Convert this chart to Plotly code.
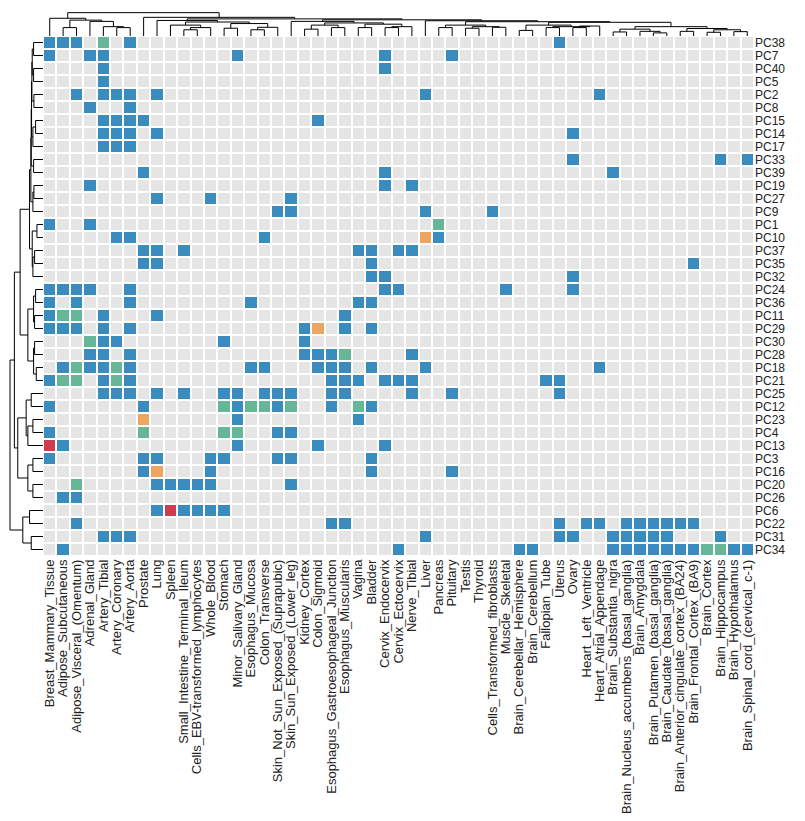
import plotly.graph_objects as go

tissues = [
    "Breast_Mammary_Tissue", "Adipose_Subcutaneous", "Adipose_Visceral_(Omentum)",
    "Adrenal_Gland", "Artery_Tibial", "Artery_Coronary", "Artery_Aorta", "Prostate",
    "Lung", "Spleen", "Small_Intestine_Terminal_Ileum", "Cells_EBV-transformed_lymphocytes",
    "Whole_Blood", "Stomach", "Minor_Salivary_Gland", "Esophagus_Mucosa", "Colon_Transverse",
    "Skin_Not_Sun_Exposed_(Suprapubic)", "Skin_Sun_Exposed_(Lower_leg)", "Kidney_Cortex",
    "Colon_Sigmoid", "Esophagus_Gastroesophageal_Junction", "Esophagus_Muscularis", "Vagina",
    "Bladder", "Cervix_Endocervix", "Cervix_Ectocervix", "Nerve_Tibial", "Liver", "Pancreas",
    "Pituitary", "Testis", "Thyroid", "Cells_Transformed_fibroblasts", "Muscle_Skeletal",
    "Brain_Cerebellar_Hemisphere", "Brain_Cerebellum", "Fallopian_Tube", "Uterus", "Ovary",
    "Heart_Left_Ventricle", "Heart_Atrial_Appendage", "Brain_Substantia_nigra",
    "Brain_Nucleus_accumbens_(basal_ganglia)", "Brain_Amygdala",
    "Brain_Putamen_(basal_ganglia)", "Brain_Caudate_(basal_ganglia)",
    "Brain_Anterior_cingulate_cortex_(BA24)", "Brain_Frontal_Cortex_(BA9)", "Brain_Cortex",
    "Brain_Hippocampus", "Brain_Hypothalamus", "Brain_Spinal_cord_(cervical_c-1)",
]

pcs = ["PC38", "PC7", "PC40", "PC5", "PC2", "PC8", "PC15", "PC14", "PC17", "PC33",
       "PC39", "PC19", "PC27", "PC9", "PC1", "PC10", "PC37", "PC35", "PC32", "PC24",
       "PC36", "PC11", "PC29", "PC30", "PC28", "PC18", "PC21", "PC25", "PC12", "PC23",
       "PC4", "PC13", "PC3", "PC16", "PC20", "PC26", "PC6", "PC22", "PC31", "PC34"]

# 0 = none, 1 = blue, 2 = green, 3 = orange, 4 = red (blocks of 10 tissues)
cells = [
    "1110201000 0000000000 0000000000 0000000010 0000000000 000",  # PC38
    "1001100000 0000100000 0000010000 1000000000 0000000000 000",  # PC7
    "0000100000 0000000000 0000010000 0000000000 0000000000 000",  # PC40
    "0000100000 0000000000 0000000000 0000000000 0000000000 000",  # PC5
    "0010111010 0000000000 0000000010 0000000000 0100000000 000",  # PC2
    "0001001000 0000000000 0000000000 0000000000 0000000000 000",  # PC8
    "0000111100 0000000000 1000000000 0000000000 0000000000 000",  # PC15
    "0000111010 0000000000 0000000000 0000000001 0000000000 000",  # PC14
    "0000111000 0000000000 0000000000 0000000000 0000000000 000",  # PC17
    "0000000000 0000000000 0000000000 0000000001 0000000000 101",  # PC33
    "0000000100 0000000000 0000010000 0000000000 0010000000 000",  # PC39
    "0001000000 0000000000 0000010100 0000000000 0000000000 000",  # PC19
    "0000000010 0010000010 0000000000 0000000000 0000000000 000",  # PC27
    "0000000000 0000000110 0000000010 0001000000 0000000000 000",  # PC9
    "1001000000 0000000000 0000000002 0000000000 0000000000 000",  # PC1
    "0000011000 0000001000 0000000031 0000000000 0000000000 000",  # PC10
    "0000000110 1000000000 0001101100 0000000000 0000000000 000",  # PC37
    "0000000110 0000000000 0000100000 0000000000 0000000010 000",  # PC35
    "0000000000 0000000000 0000110000 0000000001 0000000000 000",  # PC32
    "1111001000 0000000000 0000011000 0000100001 0000000000 000",  # PC24
    "1010001000 0000010000 0001100000 0000000000 0000000000 000",  # PC36
    "1220100010 0000000000 0010000000 0000000000 0000000000 000",  # PC11
    "1110101000 0000000001 3010100000 0000000000 0000000000 000",  # PC29
    "0002110000 0001000001 0000000000 0000000000 0000000000 000",  # PC30
    "0001101000 0000000001 1120000100 0000000000 0000000000 000",  # PC28
    "0121121000 0000011000 1110100010 0000000000 0100000000 000",  # PC18
    "1220121000 0000000000 0111011100 0000000110 0000000000 000",  # PC21
    "0000111010 1001101110 0110000100 1000000010 0000000000 000",  # PC25
    "1000000100 0002122120 0102100000 0000000000 0000000000 000",  # PC12
    "0000000300 0000100000 0001000000 0000000000 0000000000 000",  # PC23
    "1000000200 0002200110 0000000000 0000000000 0000000000 000",  # PC4
    "4100000000 0000100000 1000010000 0000000000 0000000000 000",  # PC13
    "1000000110 0011000110 0000100000 0000000000 0000000000 000",  # PC3
    "0000000130 0010000000 0000100000 1000000000 0000000000 000",  # PC16
    "0020000011 1110000010 0000000000 0000000000 0000000000 000",  # PC20
    "0110000000 0000000000 0000000000 0000000000 0000000000 000",  # PC26
    "0000000014 1111000000 0000000000 0000000000 0000000000 000",  # PC6
    "0010000000 0000000000 0110000000 0000000010 1101111110 000",  # PC22
    "0000111000 0000000000 0000000010 0000000011 0011111000 100",  # PC31
    "0100000000 0000000000 0000001000 0000011000 0011111112 211",  # PC34
]


def N(h, a, b):
    return (h, a, b)


# column dendrogram (leaf = tissue index, merge heights)
col_tree = N(75,
    N(57, 0, N(51, N(27, 1, 2), N(47, 3, N(30, 4, N(27, 5, 6))))),
    N(60, 7, N(55,
        N(50, 8, N(45, N(35, 9, N(27, N(20, 10, 11), 12)),
                       N(40, N(25, 13, 14), N(28, N(20, 15, 16), 17)))),
        N(52,
          N(47, 18, N(42, N(35, N(22, 19, 20), N(27, 21, 22)),
                          N(38, N(27, 23, 24), N(30, N(27, 25, 26), 27)))),
          N(49, 28, N(46,
              N(35, N(27, 29, 30), N(30, N(25, 31, 32), N(28, 33, 34))),
              N(44, N(35, N(18, 35, 36), N(30, N(27, 37, 38), N(32, N(27, 39, 40), 41))),
                    N(30, N(22, N(13, 42, 43), N(15, 44, N(10, 45, 46))),
                          N(24, N(15, 47, 48), N(20, N(12, 49, 50), N(14, 51, 52)))))))))))

# row dendrogram (leaf = row index)
row_tree = N(98,
    N(85,
      N(68,
        N(40,
          N(36, N(35, N(34, N(33, N(32, N(28, 0, 1), N(28, 2, 3)), N(27, 4, 5)),
                          N(30, N(22, 6, 7), 8)), N(28, 9, 10)),
                N(30, N(27, 11, 12), 13)),
          N(32, N(18, 14, 15), N(30, N(25, 16, 17), 18))),
        N(45, N(28, N(22, 19, 20), N(25, 21, 22)), N(28, N(25, 23, 24), N(20, 25, 26)))),
      N(75,
        N(50, N(35, 27, 28), N(45, N(30, 29, 30), 31)),
        N(45, N(30, 32, 33), N(30, 34, 35)))),
    N(60, N(40, 36, 37), N(35, 38, 39)))


def dendro(node, segs):
    # returns (position, height); appends the bracket segments
    if not isinstance(node, tuple):
        return float(node), 0.0
    h, a, b = node
    pa, ha = dendro(a, segs)
    pb, hb = dendro(b, segs)
    segs.append([(pa, ha), (pa, h), (pb, h), (pb, hb)])
    return (pa + pb) / 2, h


z = [[int(ch) for ch in row.replace(" ", "")] for row in cells]

grey = "#E5E5E5"
blue = "#3A8BBE"
green = "#66B797"
orange = "#EDA65F"
red = "#CB3D4F"
cscale = [[0, grey], [0.125, grey], [0.125, blue], [0.375, blue], [0.375, green],
          [0.625, green], [0.625, orange], [0.875, orange], [0.875, red], [1, red]]

fig = go.Figure()
fig.add_trace(go.Heatmap(
    z=z, x=list(range(len(tissues))), y=list(range(len(pcs))),
    zmin=0, zmax=4, colorscale=cscale, showscale=False,
    xgap=2, ygap=2, hoverinfo="skip"))

top_segs = []
dendro(col_tree, top_segs)
tx, ty = [], []
for s in top_segs:
    for p, h in s:
        tx.append(p)
        ty.append(h)
    tx.append(None)
    ty.append(None)
fig.add_trace(go.Scatter(x=tx, y=ty, mode="lines", xaxis="x2", yaxis="y2",
                         line=dict(color="black", width=1), hoverinfo="skip"))

left_segs = []
dendro(row_tree, left_segs)
lx, ly = [], []
for s in left_segs:
    for p, h in s:
        lx.append(h)
        ly.append(p)
    lx.append(None)
    ly.append(None)
fig.add_trace(go.Scatter(x=lx, y=ly, mode="lines", xaxis="x3", yaxis="y3",
                         line=dict(color="black", width=1), hoverinfo="skip"))

W, H = 805, 821
plot_w, plot_h = 746, 548
gx0 = 35 / plot_w
gy1 = (plot_h - 28) / plot_h
xr = [-0.5, len(tissues) - 0.5]
yr = [len(pcs) - 0.5, -0.5]
font = dict(family="Liberation Sans, Arial, sans-serif", size=13, color="#222222")
row_font = dict(family="Liberation Sans, Arial, sans-serif", size=12, color="#222222")

fig.update_layout(
    width=W, height=H,
    margin=dict(l=0, r=W - plot_w, t=0, b=H - plot_h),
    paper_bgcolor="white", plot_bgcolor="white",
    showlegend=False, font=font,
    xaxis=dict(domain=[gx0, 1], range=xr, anchor="y",
               tickvals=list(range(len(tissues))), ticktext=tissues,
               tickangle=-90, showgrid=False, zeroline=False, ticks="",
               tickfont=font),
    yaxis=dict(domain=[0, gy1], range=yr, anchor="x", side="right",
               tickvals=list(range(len(pcs))), ticktext=pcs,
               showgrid=False, zeroline=False, ticks="", tickfont=row_font),
    xaxis2=dict(domain=[gx0, 1], range=xr, anchor="y2", visible=False),
    yaxis2=dict(domain=[gy1, 1], range=[0, 90], anchor="x2", visible=False),
    xaxis3=dict(domain=[0, gx0], range=[104, 0], anchor="y3", visible=False),
    yaxis3=dict(domain=[0, gy1], range=yr, anchor="x3", visible=False),
)

fig.write_html("out.html")
